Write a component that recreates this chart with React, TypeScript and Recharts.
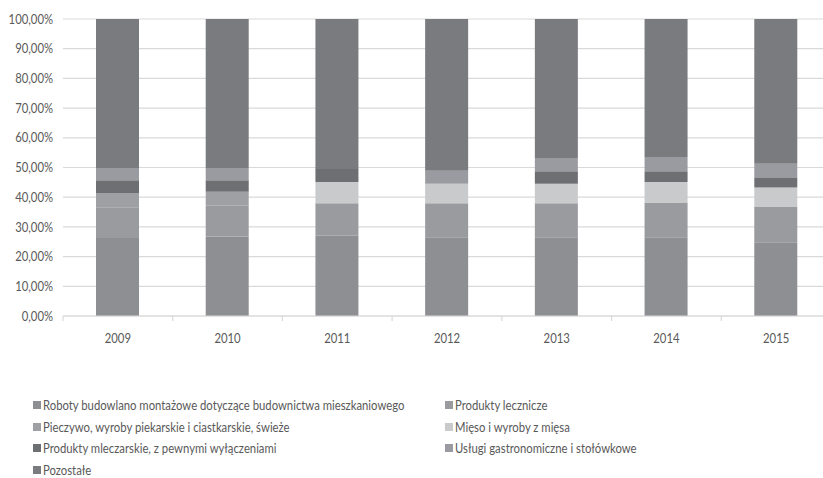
import React from 'react';
import { BarChart, Bar, XAxis, YAxis, CartesianGrid, Legend, ReferenceLine } from 'recharts';

const years = ['2009', '2010', '2011', '2012', '2013', '2014', '2015'];
const roboty = [26.3, 26.8, 27.0, 26.5, 26.5, 26.5, 24.8];
const lecznicze = [10.3, 10.3, 11.0, 11.5, 11.5, 11.7, 11.9];
const pieczywo = [4.8, 4.7, 0, 0, 0, 0, 0];
const mieso = [0, 0, 7.1, 6.5, 6.5, 6.9, 6.6];
const mleczarskie = [4.3, 3.9, 4.4, 0, 4.2, 3.6, 3.2];
const uslugi = [4.1, 4.1, 0, 4.4, 4.5, 4.8, 4.8];
const pozostale = [50.2, 50.2, 50.5, 51.1, 46.8, 46.5, 48.7];
const yTicks = [0, 10, 20, 30, 40, 50, 60, 70, 80, 90, 100];

const seriesNames = [
  'Roboty budowlano montażowe dotyczące budownictwa mieszkaniowego',
  'Produkty lecznicze',
  'Pieczywo, wyroby piekarskie i ciastkarskie, świeże',
  'Mięso i wyroby z mięsa',
  'Produkty mleczarskie, z pewnymi wyłączeniami',
  'Usługi gastronomiczne i stołówkowe',
  'Pozostałe',
];
const seriesKeys = ['roboty', 'lecznicze', 'pieczywo', 'mieso', 'mleczarskie', 'uslugi', 'pozostale'];
const seriesValues = [roboty, lecznicze, pieczywo, mieso, mleczarskie, uslugi, pozostale];
const colors = ['#8e8f93', '#9a9b9f', '#9fa0a4', '#c9cacc', '#6e6f73', '#9a9ba0', '#7a7b7f'];

const data = years.map((y, i) => {
  const row: Record<string, any> = { year: y };
  seriesKeys.forEach((k, j) => {
    row[k] = seriesValues[j][i];
  });
  return row;
});

const FONT = "Lato, 'DejaVu Sans Condensed', sans-serif";
const TEXT = '#595959';
const SQUEEZE = 0.87;

const legendPositions = [
  { col: 0, row: 0 },
  { col: 1, row: 0 },
  { col: 0, row: 1 },
  { col: 1, row: 1 },
  { col: 0, row: 2 },
  { col: 1, row: 2 },
  { col: 0, row: 3 },
];

const renderLegend = () => (
  <div style={{ position: 'relative', width: 823, height: 86, fontFamily: FONT, fontSize: 13, color: TEXT }}>
    {seriesNames.map((name, i) => {
      const p = legendPositions[i];
      return (
        <div
          key={name}
          style={{
            position: 'absolute',
            left: p.col === 0 ? 33 : 445,
            top: p.row * 21.7,
            height: 22,
            display: 'flex',
            alignItems: 'center',
            whiteSpace: 'nowrap',
          }}
        >
          <span style={{ display: 'inline-block', width: 8, height: 8, background: colors[i], marginRight: 2 }} />
          <span style={{ display: 'inline-block', transform: `scaleX(${SQUEEZE})`, transformOrigin: 'left center' }}>
            {name}
          </span>
        </div>
      );
    })}
  </div>
);

const YTick = (props: any) => {
  const { x, y, payload } = props;
  const label = `${Number(payload.value).toFixed(2).replace('.', ',')}%`;
  return (
    <g transform={`translate(${x},${y}) scale(${SQUEEZE},1)`}>
      <text x={0} y={0} dy="0.355em" textAnchor="end" fill={TEXT} fontSize={13} fontFamily={FONT}>
        {label}
      </text>
    </g>
  );
};

const XTick = (props: any) => {
  const { x, y, payload } = props;
  return (
    <g transform={`translate(${x},${y}) scale(${SQUEEZE},1)`}>
      <text x={0} y={0} dy="0.71em" textAnchor="middle" fill={TEXT} fontSize={13} fontFamily={FONT}>
        {payload.value}
      </text>
    </g>
  );
};

export default function App() {
  return (
    <div style={{ position: 'absolute', left: 0, top: 0, width: 823, height: 478, overflow: 'hidden', background: '#fff' }}>
      <BarChart
        width={840}
        height={478}
        data={data}
        margin={{ top: 19, right: 9, bottom: 46, left: 0 }}
        barSize={43}
      >
        <CartesianGrid vertical={false} stroke="#d9d9d9" strokeWidth={1.2} />
        <XAxis
          dataKey="year"
          height={30}
          axisLine={{ stroke: '#d9d9d9', strokeWidth: 1.2 }}
          tickLine={false}
          tickSize={6}
          tickMargin={12}
          tick={<XTick />}
        />
        <YAxis
          width={63}
          domain={[0, 100]}
          ticks={yTicks}
          interval={0}
          axisLine={false}
          tickLine={false}
          tickMargin={4}
          tick={<YTick />}
        />
        {years.map((y) => (
          <ReferenceLine
            key={'t' + y}
            segment={[{ x: y, y: 0 }, { x: y, y: -1.7 }]}
            position="start"
            ifOverflow="visible"
            stroke="#d9d9d9"
            strokeWidth={1.2}
          />
        ))}
        {seriesKeys.map((k, i) => (
          <Bar
            key={k}
            dataKey={k}
            name={seriesNames[i]}
            stackId="a"
            fill={colors[i]}
            isAnimationActive={false}
          />
        ))}
        <Legend
          verticalAlign="bottom"
          content={renderLegend}
          wrapperStyle={{ left: 0, top: 394, bottom: 'auto', width: 823, height: 86 }}
        />
      </BarChart>
    </div>
  );
}
